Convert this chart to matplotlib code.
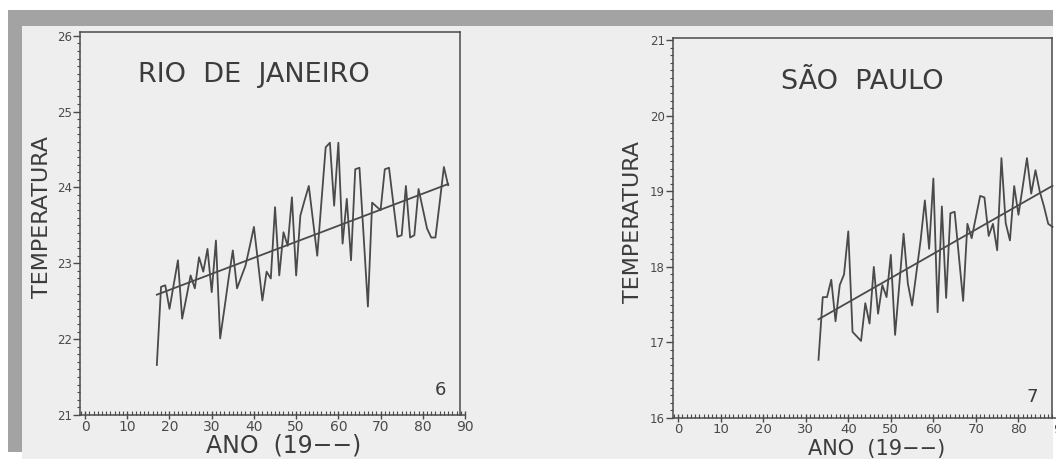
import numpy as np
import matplotlib.pyplot as plt
from matplotlib.patches import Rectangle
from matplotlib.ticker import MultipleLocator

# temperatura media anual, anos 19--
rio_anos = list(range(17, 87))
rio_temp = [21.66, 22.69, 22.71, 22.40, 22.72, 23.04, 22.27, 22.55, 22.84, 22.67,
            23.08, 22.89, 23.19, 22.62, 23.30, 22.01, 22.40, 22.80, 23.17, 22.67,
            22.82, 22.97, 23.22, 23.48, 23.00, 22.51, 22.89, 22.80, 23.74, 22.84,
            23.41, 23.23, 23.87, 22.84, 23.63, 23.83, 24.02, 23.56, 23.10, 23.82,
            24.53, 24.59, 23.76, 24.59, 23.26, 23.85, 23.04, 24.24, 24.26, 23.35,
            22.43, 23.80, 23.75, 23.70, 24.24, 24.26, 23.80, 23.35, 23.37, 24.02,
            23.34, 23.37, 23.98, 23.72, 23.46, 23.34, 23.34, 23.80, 24.27, 24.03]

sp_anos = list(range(33, 89))
sp_temp = [16.77, 17.60, 17.60, 17.83, 17.28, 17.76, 17.90, 18.47, 17.14, 17.08,
           17.02, 17.52, 17.25, 18.00, 17.38, 17.76, 17.60, 18.16, 17.10, 17.77,
           18.44, 17.78, 17.49, 17.92, 18.35, 18.88, 18.24, 19.17, 17.40, 18.80,
           17.59, 18.71, 18.73, 18.14, 17.55, 18.57, 18.38, 18.66, 18.94, 18.92,
           18.41, 18.57, 18.22, 19.44, 18.58, 18.35, 19.07, 18.69, 19.06, 19.44,
           18.97, 19.28, 19.00, 18.80, 18.57, 18.53]

ink = '#4a4a4a'
txt = '#3c3c3c'
W, H = 1056, 459
fig = plt.figure(figsize=(W / 100, H / 100), dpi=100, facecolor='white')

def fx(px):
    return px / W

def fy(py):
    return 1 - py / H

# fundo da pagina digitalizada
fig.patches.append(Rectangle((fx(22), 0), fx(1053) - fx(22), fy(26), transform=fig.transFigure,
                             facecolor='#eeeeee', edgecolor='none', zorder=-3))
fig.patches.append(Rectangle((fx(8), fy(26)), fx(1053) - fx(8), fy(10) - fy(26), transform=fig.transFigure,
                             facecolor='#a3a3a3', edgecolor='none', zorder=-2))
fig.patches.append(Rectangle((fx(8), fy(452)), fx(22) - fx(8), fy(26) - fy(452), transform=fig.transFigure,
                             facecolor='#a3a3a3', edgecolor='none', zorder=-2))


def painel(rect, anos, temp, ylim, xright, titulo, tpos, num, npos, ylpos, xlpos, xlsize, xtsize):
    ax = fig.add_axes(rect)
    ax.set_facecolor('none')
    anos = np.array(anos)
    temp = np.array(temp)
    ax.plot(anos, temp, color=ink, lw=1.3)
    a, b = np.polyfit(anos, temp, 1)
    xs = np.array([anos[0], anos[-1]])
    ax.plot(xs, a * xs + b, color=ink, lw=1.3)

    ax.set_xlim(-1.2, 90)
    ax.set_ylim(*ylim)
    yt = np.arange(ylim[0], int(ylim[1]) + 1)
    ax.set_yticks(yt)
    ax.set_yticklabels([str(int(v)) for v in yt], fontweight='bold')
    ax.xaxis.set_major_locator(MultipleLocator(10))
    ax.xaxis.set_minor_locator(MultipleLocator(1))
    ax.yaxis.set_minor_locator(MultipleLocator(0.1))
    ax.tick_params(axis='x', which='major', direction='inout', length=6, width=1,
                   colors=ink, labelsize=xtsize, pad=0.5)
    ax.tick_params(axis='x', which='minor', direction='in', length=3, width=0.8, colors=ink)
    ax.tick_params(axis='y', which='major', direction='out', length=5, width=1,
                   colors=ink, labelsize=8.5, pad=1)
    ax.tick_params(axis='y', which='minor', direction='out', length=2.5, width=0.8, colors=ink)
    for s in ax.spines.values():
        s.set_color(ink)
        s.set_linewidth(1.1)
    ax.spines['right'].set_position(('data', xright))
    ax.spines['top'].set_bounds(-1.2, xright)

    fig.text(fx(tpos[0]), fy(tpos[1]), titulo, ha='center', va='center',
             fontsize=19.5, color=txt)
    fig.text(fx(npos[0]), fy(npos[1]), num, ha='center', va='center',
             fontsize=13, color=txt)
    fig.text(fx(ylpos[0]), fy(ylpos[1]), 'TEMPERATURA', rotation=90, ha='center', va='center',
             fontsize=16, color=txt)
    fig.text(fx(xlpos[0]), fy(xlpos[1]), 'ANO  (19\u2212\u2212)', ha='center', va='bottom',
             fontsize=xlsize, color=txt)
    return ax


painel([fx(80), fy(415), fx(465) - fx(80), fy(32) - fy(415)], rio_anos, rio_temp,
       (21, 26.05), 88.8, 'RIO  DE  JANEIRO', (254, 75), '6', (440, 390), (42, 217), (284, 458), 17, 10)
painel([fx(673), fy(418), fx(1061) - fx(673), fy(38) - fy(418)], sp_anos, sp_temp,
       (16, 21.03), 87.9, 'SÃO  PAULO', (862, 82), '7', (1032, 397), (633, 222), (877, 458.5), 15, 9.5)

fig.savefig('out.png', dpi=100, facecolor=fig.get_facecolor())
